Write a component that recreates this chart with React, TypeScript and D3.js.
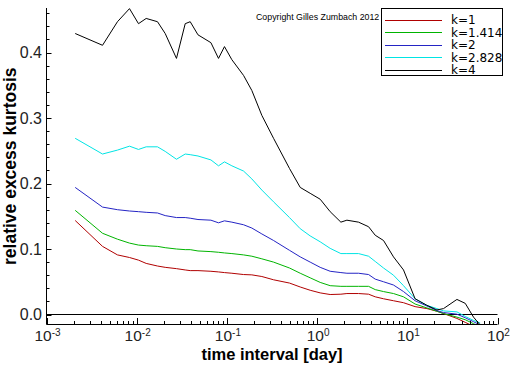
import React from 'react';
import * as d3 from 'd3';

// time interval [day]
const time = [0.00208, 0.00418, 0.00612, 0.00832, 0.01047, 0.01274, 0.017, 0.0207, 0.0276, 0.0345, 0.0392, 0.0478, 0.0665, 0.0807, 0.094, 0.1135, 0.153, 0.189, 0.244, 0.329, 0.494, 0.65, 0.838, 1.082, 1.396, 1.835, 2.14, 2.88, 3.72, 4.41, 5.45, 7.03, 9.08, 12.2, 16.5, 21.3, 25.2, 35.5, 43.9, 54.2, 64.3];

const k1 = [0.1435, 0.104, 0.091, 0.087, 0.083, 0.078, 0.074, 0.072, 0.07, 0.068, 0.067, 0.067, 0.066, 0.065, 0.064, 0.063, 0.061, 0.0605, 0.058, 0.053, 0.048, 0.042, 0.037, 0.033, 0.0305, 0.031, 0.032, 0.032, 0.031, 0.027, 0.024, 0.021, 0.018, 0.012, 0.009, 0.005, 0.0015, -0.006, -0.012, -0.018, -0.024];
const k1414 = [0.159, 0.124, 0.115, 0.109, 0.106, 0.105, 0.104, 0.102, 0.1, 0.099, 0.099, 0.097, 0.096, 0.095, 0.094, 0.093, 0.091, 0.089, 0.085, 0.08, 0.071, 0.063, 0.056, 0.049, 0.044, 0.043, 0.043, 0.043, 0.043, 0.038, 0.035, 0.032, 0.027, 0.016, 0.01, 0.005, 0.0015, -0.004, -0.008, -0.014, -0.019];
const k2 = [0.194, 0.164, 0.16, 0.158, 0.157, 0.156, 0.155, 0.151, 0.148, 0.148, 0.147, 0.145, 0.144, 0.14, 0.143, 0.141, 0.137, 0.132, 0.123, 0.113, 0.098, 0.088, 0.08, 0.072, 0.066, 0.064, 0.063, 0.063, 0.061, 0.054, 0.05, 0.045, 0.035, 0.021, 0.013, 0.006, 0.003, 0.0005, -0.005, -0.011, -0.016];
const k2828 = [0.269, 0.245, 0.251, 0.257, 0.252, 0.256, 0.256, 0.249, 0.237, 0.245, 0.244, 0.242, 0.236, 0.227, 0.233, 0.227, 0.219, 0.207, 0.19, 0.172, 0.148, 0.131, 0.12, 0.111, 0.101, 0.093, 0.093, 0.093, 0.089, 0.081, 0.071, 0.06, 0.044, 0.024, 0.014, 0.009, 0.0055, 0.004, -0.003, -0.009, -0.013];
const k4 = [0.429, 0.411, 0.447, 0.467, 0.444, 0.452, 0.447, 0.429, 0.391, 0.444, 0.447, 0.427, 0.415, 0.391, 0.409, 0.389, 0.365, 0.342, 0.304, 0.269, 0.223, 0.194, 0.185, 0.176, 0.157, 0.141, 0.144, 0.141, 0.134, 0.121, 0.113, 0.088, 0.068, 0.024, 0.014, 0.007, 0.009, 0.023, 0.017, -0.004, -0.016];

const seriesValues = [k1, k1414, k2, k2828, k4];
const seriesNames = ['k=1', 'k=1.414', 'k=2', 'k=2.828', 'k=4'];
const seriesColors = ['#b00000', '#00b400', '#2424c4', '#00e4e4', '#000000'];

const yTickValues = [0, 0.1, 0.2, 0.3, 0.4];
const yTickLabels = ['0.0', '0.1', '0.2', '0.3', '0.4'];
const xTickExponents = [-3, -2, -1, 0, 1, 2];
const xTickSupers = ['-3', '-2', '-1', '0', '1', '2'];

const W = 512;
const H = 366;
const left = 46.5;
const right = 497.5;
const top = 8;
const bottom = 324.5;

export default function App() {
  const x = d3.scaleLog().domain([1e-3, 1e2]).range([left, right]);
  const y = d3.scaleLinear().domain([0, 0.4]).range([314.5, 52.5]);

  const minorY = d3.range(-0.0, 0.4601, 0.02).filter((v) => y(v) >= top);
  const minorX: number[] = [];
  for (let e = -3; e < 2; e++) {
    for (let m = 2; m <= 9; m++) minorX.push(m * Math.pow(10, e));
  }

  const line = d3
    .line<number>()
    .x((_, i) => x(time[i]))
    .y((d) => y(d));

  const font = "'Liberation Sans', Arial, Helvetica, sans-serif";
  const legendRow = (i: number) => 19.5 + i * 12.6;

  return (
    <div style={{ position: 'fixed', left: 0, top: 0 }}>
      <svg width={W} height={H} viewBox={`0 0 ${W} ${H}`} style={{ display: 'block', background: '#fff' }}>
        <defs>
          <clipPath id="plot">
            <rect x={left} y={top} width={right - left} height={bottom - top} />
          </clipPath>
        </defs>
        <rect x={0} y={0} width={W} height={H} fill="#fff" />

        {/* zero line */}
        <line x1={left} x2={right} y1={y(0)} y2={y(0)} stroke="#000" strokeWidth={1} />

        {/* series */}
        <g clipPath="url(#plot)">
          {seriesValues.map((vals, i) => (
            <path key={i} d={line(vals) || ''} fill="none" stroke={seriesColors[i]} strokeWidth={1} />
          ))}
        </g>

        {/* y axis */}
        <line x1={left} x2={left} y1={top} y2={bottom} stroke="#000" strokeWidth={1} />
        {minorY.map((v, i) => (
          <line key={'my' + i} x1={left} x2={left + 3} y1={Math.round(y(v)) + 0.5} y2={Math.round(y(v)) + 0.5} stroke="#000" strokeWidth={1} />
        ))}
        {yTickValues.map((v, i) => (
          <g key={'yt' + i}>
            <line x1={left} x2={left + 5} y1={Math.round(y(v)) + 0.5} y2={Math.round(y(v)) + 0.5} stroke="#000" strokeWidth={1} />
            <text x={42} y={y(v)} dy="0.36em" textAnchor="end" fontFamily={font} fontSize={16} fill="#222">
              {yTickLabels[i]}
            </text>
          </g>
        ))}

        {/* x axis */}
        <line x1={left} x2={right} y1={bottom} y2={bottom} stroke="#000" strokeWidth={1} />
        {minorX.map((v, i) => (
          <line key={'mx' + i} x1={Math.round(x(v)) + 0.5} x2={Math.round(x(v)) + 0.5} y1={bottom} y2={bottom - 3.5} stroke="#000" strokeWidth={1} />
        ))}
        {xTickExponents.map((e, i) => {
          const px = x(Math.pow(10, e));
          return (
            <g key={'xt' + i}>
              <line x1={Math.round(px) + 0.5} x2={Math.round(px) + 0.5} y1={bottom} y2={bottom - 6.5} stroke="#000" strokeWidth={1} />
              <text x={px + 1} y={341} textAnchor="middle" fontFamily={font} fontSize={15.5} fill="#222">
                10
                <tspan fontSize={10} dy={-5.5}>{xTickSupers[i]}</tspan>
              </text>
            </g>
          );
        })}

        {/* axis titles */}
        <text x={(left + right) / 2} y={359.5} textAnchor="middle" fontFamily={font} fontSize={16.5} fontWeight="bold" fill="#000">
          time interval [day]
        </text>
        <text
          transform={`translate(16, ${(top + bottom) / 2}) rotate(-90)`}
          textAnchor="middle"
          fontFamily={font}
          fontSize={17.5}
          fontWeight="bold"
          fill="#000"
        >
          relative excess kurtosis
        </text>

        {/* copyright */}
        <text x={256} y={19.5} fontFamily={font} fontSize={8.8} fill="#000">
          Copyright Gilles Zumbach 2012
        </text>

        {/* legend */}
        <rect x={381.5} y={8.5} width={121} height={67} fill="#fff" stroke="#000" strokeWidth={1} />
        {seriesNames.map((name, i) => (
          <g key={'lg' + i}>
            <line x1={385} x2={442} y1={Math.round(legendRow(i)) + 0.5} y2={Math.round(legendRow(i)) + 0.5} stroke={seriesColors[i]} strokeWidth={1} />
            <text x={451} y={legendRow(i) + 4.5} fontFamily="'DejaVu Sans', sans-serif" fontSize={12} fill="#000">
              {name}
            </text>
          </g>
        ))}
      </svg>
    </div>
  );
}
